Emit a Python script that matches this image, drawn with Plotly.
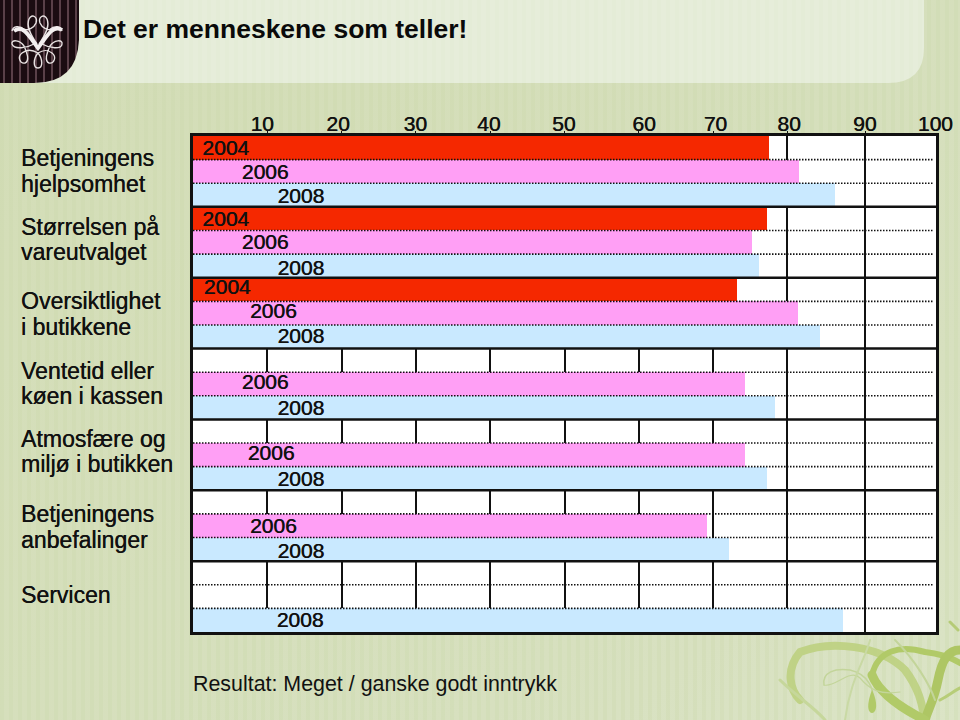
import base64
import plotly.graph_objects as go

FONT = "Liberation Sans"
W, H = 960, 720
L, R, T, B = 193, 936, 136, 632
SEMI = "0.3px 0 0 #111"
SEMI_NUM = "0.5px 0 0 #111"

title = "Det er menneskene som teller!"
footnote = "Resultat: Meget / ganske godt inntrykk"
category_lines = ["Betjeningens", "hjelpsomhet", "Størrelsen på", "vareutvalget",
                  "Oversiktlighet", "i butikkene", "Ventetid eller", "køen i kassen",
                  "Atmosfære og", "miljø i butikken", "Betjeningens", "anbefalinger", "Servicen"]
category_line_rows = [0.93, 2.03, 3.85, 4.91, 6.99, 8.09, 9.95, 11.0, 12.83, 13.89, 16.01, 17.12, 19.43]

n_groups = 7
values_2004 = [77.5, 77.3, 73.2, None, None, None, None]
values_2006 = [81.6, 75.2, 81.4, 74.3, 74.3, 69.2, None]
values_2008 = [86.4, 76.2, 84.4, 78.3, 77.3, 72.1, 87.5]

label_x_2004 = [4.4, 4.4, 4.6, None, None, None, None]
label_x_2006 = [9.7, 9.7, 10.8, 9.7, 10.5, 10.8, None]
label_x_2008 = [14.5, 14.5, 14.5, 14.5, 14.5, 14.5, 14.4]
label_row_2004 = [0.58, 3.58, 6.48, None, None, None, None]
label_row_2006 = [1.58, 4.58, 7.48, 10.48, 13.48, 16.58, None]
label_row_2008 = [2.63, 5.68, 8.53, 11.58, 14.58, 17.63, 20.58]

grid_ticks = [10, 20, 30, 40, 50, 60, 70, 80, 90.5]
label_ticks = [9.3, 19.5, 29.9, 39.8, 49.9, 60.7, 70.3, 80.2, 90.4, 99.9]
label_text = ["10", "20", "30", "40", "50", "60", "70", "80", "90", "100"]
years = ["2004", "2006", "2008"]
colors = ["#f52800", "#ff9ff5", "#c9e9ff"]

svg = f'''<svg xmlns="http://www.w3.org/2000/svg" width="{W}" height="{H}" viewBox="0 0 {W} {H}">
<defs>
<linearGradient id="g" x1="0" y1="0" x2="1" y2="1">
<stop offset="0" stop-color="#d3ddb6"/><stop offset="0.75" stop-color="#d7e0bf"/><stop offset="1" stop-color="#dbe4c6"/></linearGradient>
<pattern id="s" width="9" height="10" patternUnits="userSpaceOnUse"><rect width="4" height="10" fill="#c9d6a8" opacity="0.28"/></pattern>
<pattern id="k" width="8" height="10" patternUnits="userSpaceOnUse"><rect width="8" height="10" fill="#1b0c11"/><rect x="3" width="2" height="10" fill="#5a4048"/></pattern>
</defs>
<rect width="{W}" height="{H}" fill="url(#g)"/><rect width="{W}" height="{H}" fill="url(#s)"/>
<path d="M0 0H924V48Q924 83 888 83H0Z" fill="#e6edda"/>
<path d="M0 0H924V48Q924 83 888 83H0Z" fill="url(#s)" opacity="0.25"/>
<path d="M0 0H79V40Q77 83 34 83H0Z" fill="url(#k)"/>
<g fill="none" stroke="#e8e2e2" stroke-width="1.4">
<path d="M37 44C30 34 26 26 29 19C32 13 38 17 36 23C34 28 28 31 23 29"/>
<path d="M39 44C46 34 50 26 47 19C44 13 38 17 40 23C42 28 48 31 53 29"/>
<path d="M34 44C27 48 14 50 12 44C11 39 20 40 24 46C27 52 30 61 25 63C20 64 17 57 22 53C27 49 33 50 38 53"/>
<path d="M42 44C49 48 62 50 62 44C63 39 54 40 50 46C47 52 44 61 49 63C54 64 57 57 52 53C47 49 43 50 38 53"/>
<path d="M38 53C33 59 33 68 38 68C43 68 43 59 38 53"/>
<path d="M12 31C13 26 19 25 25 30M62 31C61 26 55 25 49 30"/>
</g>
<path d="M14 31C23 24 29 36 38 48C47 36 53 24 62 30" fill="none" stroke="#f3efef" stroke-width="3.8"/>
<g fill="none" stroke-linecap="round">
<path d="M800 700C790 690 785 670 800 652C830 640 880 645 905 670C920 690 922 705 925 720" stroke="#bcd07f" stroke-width="8" opacity="0.9"/>
<path d="M872 675C878 650 900 645 925 652C945 654 955 660 960 663" stroke="#b1ca68" stroke-width="6"/>
<path d="M960 650C948 650 942 660 938 680C934 700 928 710 925 720" stroke="#aec664" stroke-width="9"/>
<path d="M872 675C880 695 905 710 925 720" stroke="#b1ca68" stroke-width="9"/>
<path d="M824 685C822 672 835 668 850 670C868 674 875 690 872 700" stroke="#c3d59a" stroke-width="1.5"/>
<path d="M824 685C835 688 850 668 860 678C870 690 880 695 900 692" stroke="#c3d59a" stroke-width="1.2"/>
<path d="M780 680C795 695 815 708 825 720" stroke="#c6d79b" stroke-width="3"/>
<path d="M895 640C915 660 930 685 935 700" stroke="#c3d59a" stroke-width="2"/>
<path d="M870 640C865 660 850 680 845 720" stroke="#c9d9a4" stroke-width="2"/>
<path d="M940 700C950 695 955 690 960 688" stroke="#b7cd78" stroke-width="3"/>
<path d="M950 622L958 630" stroke="#b5cb76" stroke-width="3"/>
</g>
<path d="M872 690C877 700 878 712 872 713C866 712 868 700 872 690Z" fill="#b1ca68"/>
</svg>'''
bg_src = "data:image/svg+xml;base64," + base64.b64encode(svg.encode("utf-8")).decode()

def px(x):
    return x / W

def py(y):
    return 1 - y / H

series = [values_2004, values_2006, values_2008]
label_x = [label_x_2004, label_x_2006, label_x_2008]
label_rows = [label_row_2004, label_row_2006, label_row_2008]
n_rows = 3 * n_groups

fig = go.Figure()
for s, (year, vals, color) in enumerate(zip(years, series, colors)):
    rows = [3 * g + s + 0.5 for g in range(n_groups)]
    fig.add_trace(go.Bar(x=vals, y=rows, width=1, orientation="h", name=year,
                         marker=dict(color=color, line=dict(width=0))))

dot_x, dot_y, sep_x, sep_y = [], [], [], []
for r in range(1, n_rows):
    if r % 3 == 0:
        sep_x += [0, 100, None]
        sep_y += [r, r, None]
    else:
        dot_x += [0, 99.6, None]
        dot_y += [r, r, None]
fig.add_trace(go.Scatter(x=dot_x, y=dot_y, mode="lines", line=dict(color="#111", width=1.6, dash="1.5px,1.5px")))
fig.add_trace(go.Scatter(x=sep_x, y=sep_y, mode="lines", line=dict(color="#111", width=2.5)))

for year, xs, rs in zip(years, label_x, label_rows):
    fig.add_trace(go.Scatter(x=xs, y=rs, mode="text", text=[year if v is not None else None for v in xs],
                             textposition="middle center",
                             textfont=dict(family=FONT, size=21, color="#111", shadow=SEMI_NUM)))

fig.add_trace(go.Scatter(x=[0], y=[0], xaxis="x2", mode="markers", marker=dict(opacity=0), hoverinfo="skip"))

for text, row in zip(category_lines, category_line_rows):
    fig.add_annotation(text=text, xref="paper", x=px(18.5), xanchor="left", yref="y", y=row,
                       yanchor="middle", align="left", showarrow=False,
                       font=dict(family=FONT, size=23, color="#111", shadow=SEMI))
fig.add_annotation(text=title, xref="paper", yref="paper", x=px(81), xanchor="left",
                   y=py(29), yanchor="middle", showarrow=False,
                   font=dict(family=FONT, size=26.5, color="#0a0a0a", weight="bold"))
fig.add_annotation(text=footnote, xref="paper", yref="paper", x=px(191), xanchor="left",
                   y=py(684), yanchor="middle", showarrow=False,
                   font=dict(family=FONT, size=21.4, color="#111"))

fig.update_layout(
    width=W, height=H, autosize=False, showlegend=False, barmode="overlay", bargap=0,
    margin=dict(l=0, r=0, t=0, b=0, pad=0, autoexpand=False),
    paper_bgcolor="#d5dfba", plot_bgcolor="white",
    images=[dict(source=bg_src, xref="paper", yref="paper", x=0, y=1, sizex=1, sizey=1,
                 xanchor="left", yanchor="top", sizing="stretch", layer="below")],
    shapes=[dict(type="rect", xref="paper", yref="paper", x0=px(L), x1=px(R), y0=py(B), y1=py(T),
                 fillcolor="white", line=dict(width=0), layer="below")],
    xaxis=dict(domain=[px(L), px(R)], side="top", range=[0, 100], tickmode="array", tickvals=grid_ticks,
               showticklabels=False, ticks="outside", ticklen=2, tickwidth=1, anchor="y", automargin=False,
               tickcolor="#111", showgrid=True, gridcolor="#111", gridwidth=1.6, zeroline=False,
               showline=True, linecolor="#111", linewidth=3, mirror=True),
    xaxis2=dict(domain=[px(L), px(R)], overlaying="x", side="top", range=[0, 100], tickmode="array",
                tickvals=label_ticks, ticktext=label_text, ticks="", showgrid=False, zeroline=False,
                showline=False, anchor="y", automargin=False,
                tickfont=dict(family=FONT, size=21, color="#111", shadow=SEMI_NUM)),
    yaxis=dict(domain=[py(B), py(T)], range=[n_rows, 0], showticklabels=False, ticks="", showgrid=False,
               zeroline=False, showline=True, linecolor="#111", linewidth=3, mirror=True),
)
fig.write_html("out.html", post_script="document.body.style.margin='0';document.body.style.overflow='hidden';",
               config=dict(displayModeBar=False))
